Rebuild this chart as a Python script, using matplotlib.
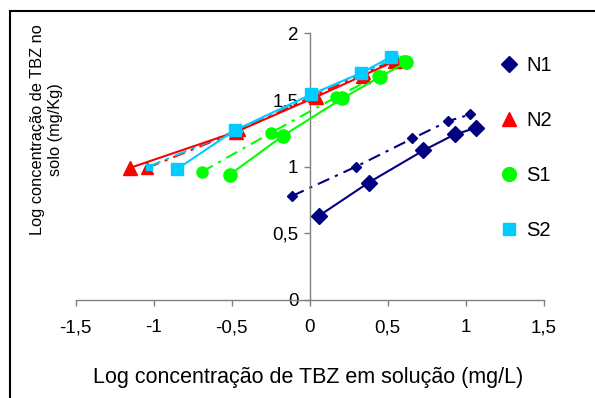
import matplotlib
matplotlib.use("Agg")
import matplotlib.pyplot as plt
from matplotlib.patches import Rectangle
from matplotlib.ticker import FuncFormatter

plt.rcParams['font.family'] = ['Liberation Sans', 'DejaVu Sans']

# Data (log Ce, log Cs)
series = ["N1", "N2", "S1", "S2"]
colors = {"N1": "#000080", "N2": "#FF0000", "S1": "#00FF00", "S2": "#00CCFF"}
markers = {"N1": "D", "N2": "^", "S1": "o", "S2": "s"}

# solid lines with large markers
n1_x = [0.06, 0.38, 0.73, 0.93, 1.07]
n1_y = [0.63, 0.88, 1.12, 1.24, 1.29]
n2_x = [-1.15, -0.47, 0.04, 0.34, 0.55]
n2_y = [0.99, 1.26, 1.52, 1.68, 1.79]
s1_x = [-0.51, -0.17, 0.21, 0.45, 0.62]
s1_y = [0.94, 1.23, 1.51, 1.67, 1.78]
s2_x = [-0.85, -0.48, 0.01, 0.33, 0.52]
s2_y = [0.98, 1.27, 1.54, 1.70, 1.82]

# dash-dot lines with small markers
n1b_x = [-0.11, 0.30, 0.66, 0.89, 1.03]
n1b_y = [0.78, 1.00, 1.21, 1.34, 1.39]
n2b_x = [-1.04, -0.45, 0.03, 0.35, 0.55]
n2b_y = [0.99, 1.27, 1.53, 1.70, 1.80]
s1b_x = [-0.69, -0.25, 0.17, 0.44, 0.60]
s1b_y = [0.96, 1.25, 1.52, 1.68, 1.79]
s2b_x = [-1.03, -0.45, 0.02, 0.35, 0.55]
s2b_y = [1.00, 1.28, 1.54, 1.71, 1.81]

solid = {"N1": (n1_x, n1_y), "N2": (n2_x, n2_y), "S1": (s1_x, s1_y), "S2": (s2_x, s2_y)}
dashed = {"N1": (n1b_x, n1b_y), "N2": (n2b_x, n2b_y), "S1": (s1b_x, s1b_y), "S2": (s2b_x, s2b_y)}

x_ticks = [-1.5, -1, -0.5, 0, 0.5, 1, 1.5]
y_ticks = [0, 0.5, 1, 1.5, 2]

fig = plt.figure(figsize=(5.95, 3.98), dpi=100)
ax = fig.add_axes([75.5 / 595, 1 - 300 / 398, 468 / 595, 267 / 398])

big_ms = {"N1": 8, "N2": 10, "S1": 9.5, "S2": 9}
small_ms = {"N1": 5, "N2": 8, "S1": 8, "S2": 5}
legend_ms = {"N1": 8.5, "N2": 10.5, "S1": 10, "S2": 9}
dashdot = (0, (6, 3, 1.5, 3))

for s in series:
    xb, yb = dashed[s]
    ax.plot(xb, yb, color=colors[s], lw=1.5, ls=dashdot, marker=markers[s],
            ms=small_ms[s], mec=colors[s], zorder=2)
handles = []
for s in series:
    x, y = solid[s]
    ax.plot(x, y, color=colors[s], lw=1.5, ls="-", marker=markers[s],
            ms=big_ms[s], mec=colors[s], zorder=3)
    h, = ax.plot([], [], ls="none", marker=markers[s], color=colors[s],
                 ms=legend_ms[s], label=s)
    handles.append(h)

ax.set_xlim(-1.5, 1.5)
ax.set_ylim(0, 2)
ax.set_xticks(x_ticks)
ax.set_yticks(y_ticks)
fmt = FuncFormatter(lambda v, p: ("%g" % v).replace(".", ","))
ax.xaxis.set_major_formatter(fmt)
ax.yaxis.set_major_formatter(fmt)

ax.spines["left"].set_position(("data", 0))
ax.spines["bottom"].set_position(("data", 0))
for sp in ["right", "top"]:
    ax.spines[sp].set_visible(False)
for sp in ["left", "bottom"]:
    ax.spines[sp].set_color("#808080")
    ax.spines[sp].set_linewidth(1.0)
ax.tick_params(axis="both", direction="out", length=4, width=1.0, color="#808080",
               labelsize=13.5, labelcolor="black")
ax.tick_params(axis="x", pad=10)
ax.tick_params(axis="y", pad=4)
ax.patch.set_alpha(0)

fig.text(308.5 / 595, 1 - 377 / 398, "Log concentração de TBZ em solução (mg/L)",
         ha="center", va="center", fontsize=15.5)
fig.text(46.5 / 595, 1 - 130 / 398, "Log concentração de TBZ no\nsolo (mg/Kg)",
         ha="center", va="center", rotation=90, fontsize=11.8, multialignment="center",
         linespacing=1.25)

fig.legend(handles=handles, loc="center left", bbox_to_anchor=(500 / 595, 1 - 148 / 398),
           frameon=False, fontsize=14.5, labelspacing=1.8, handlelength=0.9,
           handletextpad=0.4, borderpad=0, borderaxespad=0)

fig.patches.append(Rectangle((9.5 / 595, -0.1), 2, 1 - 11 / 398 + 0.1,
                             transform=fig.transFigure, fill=False, edgecolor="black",
                             lw=1.5, zorder=10))

fig.savefig("out.png", dpi=100)
